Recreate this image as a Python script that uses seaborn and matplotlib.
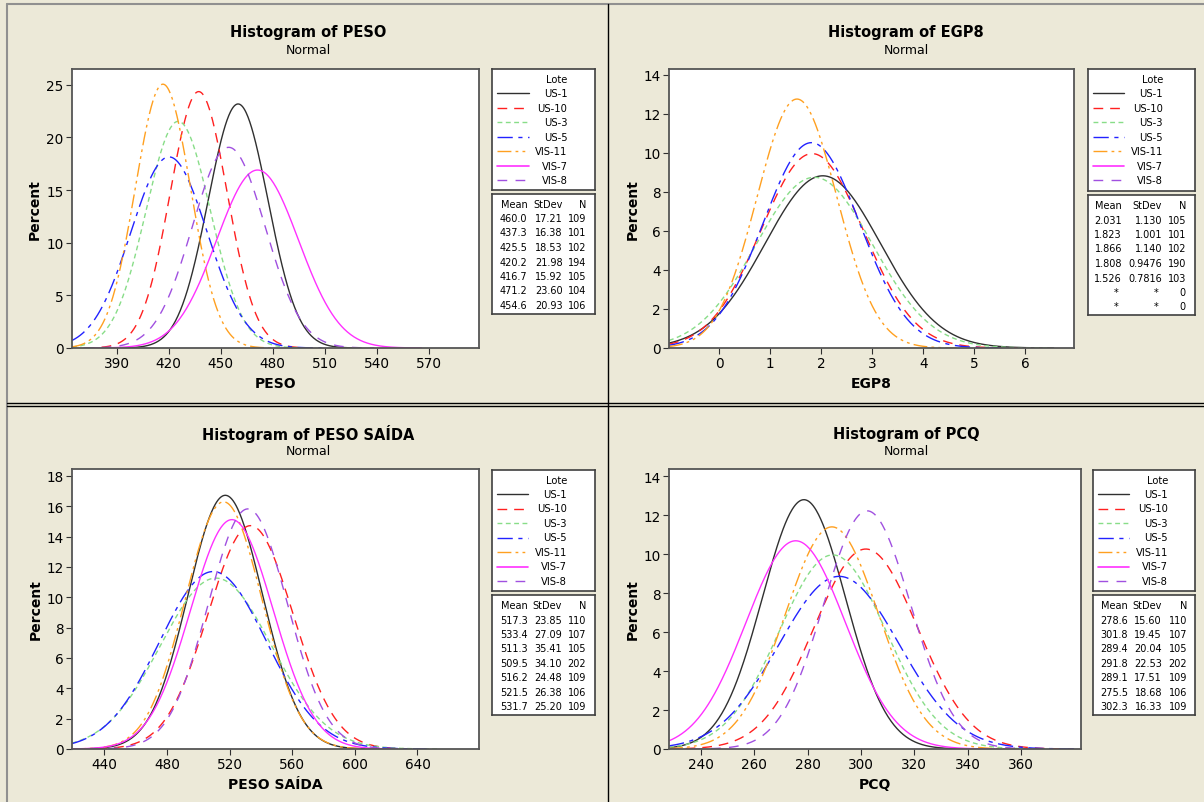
import numpy as np
import pandas as pd
import matplotlib.pyplot as plt
import seaborn as sns
from matplotlib.lines import Line2D

# dados das curvas normais ajustadas (Minitab)
lotes = ['US-1', 'US-10', 'US-3', 'US-5', 'VIS-11', 'VIS-7', 'VIS-8']

peso_mean = [460.0, 437.3, 425.5, 420.2, 416.7, 471.2, 454.6]
peso_std = [17.21, 16.38, 18.53, 21.98, 15.92, 23.60, 20.93]
peso_n = [109, 101, 102, 194, 105, 104, 106]

egp8_mean = [2.031, 1.823, 1.866, 1.808, 1.526, np.nan, np.nan]
egp8_std = [1.130, 1.001, 1.140, 0.9476, 0.7816, np.nan, np.nan]
egp8_n = [105, 101, 102, 190, 103, 0, 0]

saida_mean = [517.3, 533.4, 511.3, 509.5, 516.2, 521.5, 531.7]
saida_std = [23.85, 27.09, 35.41, 34.10, 24.48, 26.38, 25.20]
saida_n = [110, 107, 105, 202, 109, 106, 109]

pcq_mean = [278.6, 301.8, 289.4, 291.8, 289.1, 275.5, 302.3]
pcq_std = [15.60, 19.45, 20.04, 22.53, 17.51, 18.68, 16.33]
pcq_n = [110, 107, 105, 202, 109, 106, 109]

# largura de classe usada pelo Minitab para escalar em percentagem
bin_peso, bin_egp8, bin_saida, bin_pcq = 10, 0.25, 10, 5

cores = {'US-1': '#303030', 'US-10': '#FF2020', 'US-3': '#88DD88', 'US-5': '#2222FF',
         'VIS-11': '#FFA020', 'VIS-7': '#FF30FF', 'VIS-8': '#A050E0'}
tracos = {'US-1': '', 'US-10': (7, 5), 'US-3': (3.5, 2.5), 'US-5': (11, 4, 3, 4),
          'VIS-11': (10, 3, 2, 3, 2, 3), 'VIS-7': '', 'VIS-8': (7, 6)}

W, H = 1204, 803
BG = '#ECE9D8'

sns.set_theme(style='white')
plt.rcParams['font.family'] = ['DejaVu Sans']
plt.rcParams['text.color'] = 'black'
plt.rcParams['axes.labelcolor'] = 'black'

fig = plt.figure(figsize=(W / 100, H / 100), dpi=100, facecolor=BG)


def rect(l, t, r, b):
    return [l / W, 1 - b / H, (r - l) / W, (b - t) / H]


paineis = [
    dict(var='PESO', mean=peso_mean, std=peso_std, n=peso_n, bw=bin_peso,
         xlim=(364.3, 598.8), ylim=(0, 26.5), xt=range(390, 571, 30), yt=range(0, 26, 5),
         ax=(72, 70, 479, 349), leg=(492.5, 70, 595, 191), st=(492.5, 194.5, 595, 315),
         cols=(35, 70, 94), cx=308, ty=33),
    dict(var='EGP8', mean=egp8_mean, std=egp8_std, n=egp8_n, bw=bin_egp8,
         xlim=(-0.98, 6.95), ylim=(0, 14.3), xt=range(0, 7), yt=range(0, 15, 2),
         ax=(669, 70, 1074, 349), leg=(1088, 70, 1195, 192), st=(1088, 196, 1195, 316),
         cols=(34, 74, 98), cx=906, ty=33),
    dict(var='PESO SAÍDA', mean=saida_mean, std=saida_std, n=saida_n, bw=bin_saida,
         xlim=(419.4, 679.3), ylim=(0, 18.46), xt=range(440, 641, 40), yt=range(0, 19, 2),
         ax=(72, 470, 479, 750), leg=(492, 471, 595, 592), st=(492, 596, 595, 716),
         cols=(36, 70, 94), cx=308, ty=434),
    dict(var='PCQ', mean=pcq_mean, std=pcq_std, n=pcq_n, bw=bin_pcq,
         xlim=(228, 382.5), ylim=(0, 14.36), xt=range(240, 361, 20), yt=range(0, 15, 2),
         ax=(669, 470, 1081, 750), leg=(1093, 471, 1195, 592), st=(1093, 596, 1195, 716),
         cols=(35, 69, 94), cx=906, ty=434),
]

for p in paineis:
    ax = fig.add_axes(rect(*p['ax']), facecolor='white')
    linhas = []
    for lote, m, s in zip(lotes, p['mean'], p['std']):
        if np.isnan(m):
            continue
        x = np.linspace(max(m - 4 * s, p['xlim'][0]), min(m + 4 * s, p['xlim'][1]), 400)
        y = np.exp(-0.5 * ((x - m) / s) ** 2) / (s * np.sqrt(2 * np.pi)) * p['bw'] * 100
        linhas.append(pd.DataFrame({'x': x, 'Percent': y, 'Lote': lote}))
    df = pd.concat(linhas, ignore_index=True)
    presentes = [l for l in lotes if l in df['Lote'].unique()]
    sns.lineplot(data=df, x='x', y='Percent', hue='Lote', style='Lote', hue_order=presentes,
                 style_order=presentes, palette=cores, dashes=tracos, linewidth=1.0,
                 sort=False, estimator=None, legend=False, ax=ax)
    ax.set_xlim(*p['xlim'])
    ax.set_ylim(*p['ylim'])
    ax.set_xticks(list(p['xt']))
    ax.set_yticks(list(p['yt']))
    ax.tick_params(axis='both', which='both', direction='out', length=4, width=0.8,
                   labelsize=9.8, colors='#303030', bottom=True, left=True, pad=2)
    ax.tick_params(labelcolor='black')
    for sp in ax.spines.values():
        sp.set_color('#555555')
        sp.set_linewidth(1.3)
    ax.set_xlabel(p['var'], fontsize=10, fontweight='bold', labelpad=4)
    ax.set_ylabel('Percent', fontsize=10, fontweight='bold', labelpad=3)

    fig.text(p['cx'] / W, 1 - p['ty'] / H, f"Histogram of {p['var']}", ha='center', va='center',
             fontsize=10.5, fontweight='bold')
    fig.text(p['cx'] / W, 1 - (p['ty'] + 18) / H, 'Normal', ha='center', va='center', fontsize=9)

    # caixa da legenda (Lote)
    l, t, r, b = p['leg']
    lg = fig.add_axes(rect(l, t, r, b), facecolor='white')
    lg.set_xlim(0, r - l)
    lg.set_ylim(b - t, 0)
    lg.set_xticks([])
    lg.set_yticks([])
    for sp in lg.spines.values():
        sp.set_color('#404040')
        sp.set_linewidth(1.2)
    lg.text(75, 10, 'Lote', ha='right', va='center', fontsize=7.2)
    for i, lote in enumerate(lotes):
        yy = 24 + 14.5 * i
        d = tracos[lote]
        lg.plot([5, 36], [yy, yy], color=cores[lote], lw=1.2 if lote == 'VIS-7' else 1.0,
                dashes=d if d else (None, None))
        lg.text(75, yy, lote, ha='right', va='center', fontsize=7.2)

    # caixa das estatisticas
    l, t, r, b = p['st']
    st = fig.add_axes(rect(l, t, r, b), facecolor='white')
    st.set_xlim(0, r - l)
    st.set_ylim(b - t, 0)
    st.set_xticks([])
    st.set_yticks([])
    for sp in st.spines.values():
        sp.set_color('#404040')
        sp.set_linewidth(1.2)
    c1, c2, c3 = p['cols']
    for c, h in zip((c1, c2, c3), ('Mean', 'StDev', 'N')):
        st.text(c, 10, h, ha='right', va='center', fontsize=7)
    for i, (m, s, n) in enumerate(zip(p['mean'], p['std'], p['n'])):
        yy = 24.5 + 14.5 * i
        ms = '*' if np.isnan(m) else f'{m:#.4g}'
        ss = '*' if np.isnan(s) else f'{s:#.4g}'
        st.text(c1 - (3 if ms == '*' else 0), yy, ms, ha='right', va='center', fontsize=7)
        st.text(c2 - (3 if ss == '*' else 0), yy, ss, ha='right', va='center', fontsize=7)
        st.text(c3, yy, str(n), ha='right', va='center', fontsize=7)

# molduras do layout do Minitab
for xs, ys, c, w in [((7, 7), (5, H), '#909090', 1.5), ((7, W), (5, 5), '#909090', 1.5),
                     ((607.5, 607.5), (5, H), 'black', 1.0),
                     ((7, W), (404, 404), 'black', 1.0), ((7, W), (406.5, 406.5), 'black', 1.0)]:
    fig.add_artist(Line2D([x / W for x in xs], [1 - y / H for y in ys], color=c, lw=w,
                          transform=fig.transFigure))

plt.savefig('out.png', dpi=100, facecolor=BG)
